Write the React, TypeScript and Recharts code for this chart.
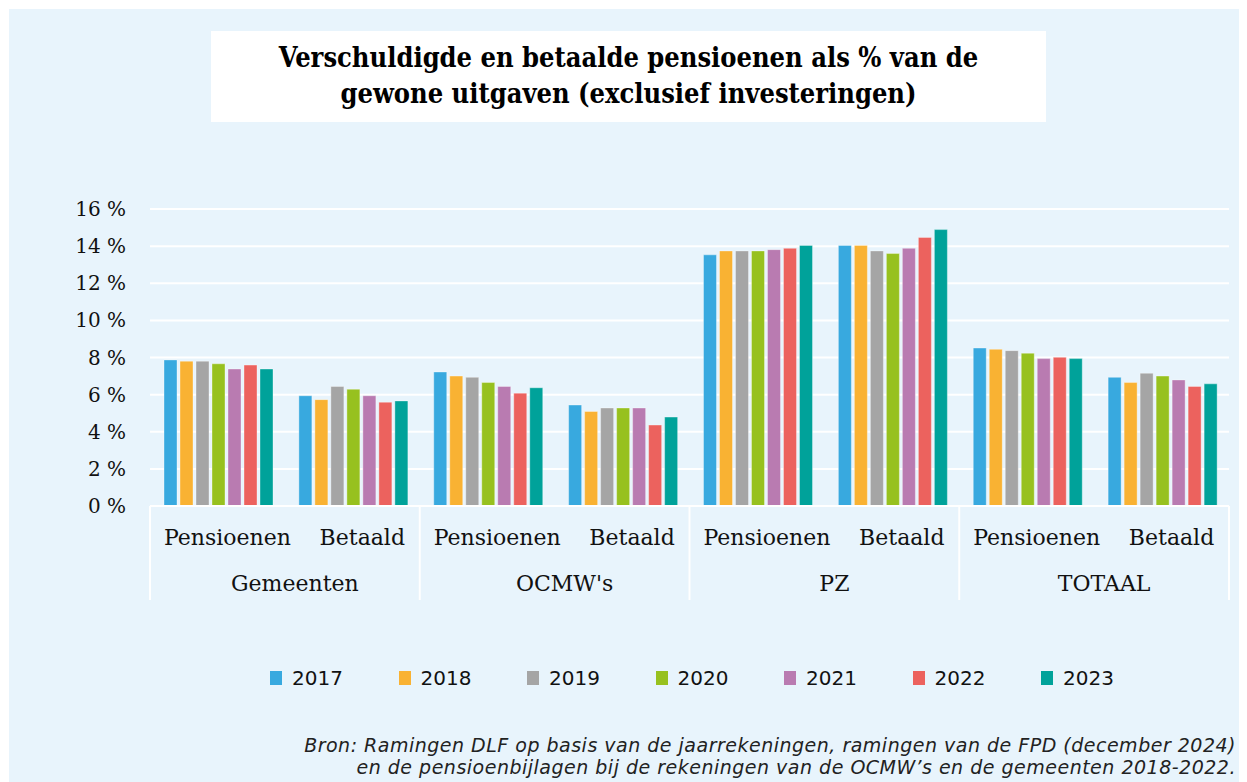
import {
  BarChart,
  Bar,
  XAxis,
  YAxis,
  CartesianGrid,
  Legend,
} from "recharts"

const groups = ["Gemeenten", "OCMW's", "PZ", "TOTAAL"]
const subLabels = ["Pensioenen", "Betaald"]
const years = ["2017", "2018", "2019", "2020", "2021", "2022", "2023"]
const colors = ["#38a9df", "#f9b233", "#a5a5a5", "#97c11f", "#b97bb1", "#ec625e", "#00a29a"]

// order: Gemeenten P/B, OCMW P/B, PZ P/B, TOTAAL P/B
const v2017 = [7.87, 5.94, 7.22, 5.44, 13.53, 14.04, 8.51, 6.93]
const v2018 = [7.8, 5.73, 7.0, 5.09, 13.74, 14.04, 8.44, 6.65]
const v2019 = [7.8, 6.44, 6.93, 5.28, 13.74, 13.74, 8.37, 7.15]
const v2020 = [7.66, 6.29, 6.65, 5.28, 13.74, 13.6, 8.23, 7.0]
const v2021 = [7.38, 5.94, 6.44, 5.28, 13.81, 13.88, 7.94, 6.79]
const v2022 = [7.59, 5.59, 6.08, 4.36, 13.88, 14.47, 8.01, 6.44]
const v2023 = [7.38, 5.66, 6.37, 4.79, 14.04, 14.89, 7.94, 6.58]
const yTicks = [0, 2, 4, 6, 8, 10, 12, 14, 16]

const series = [v2017, v2018, v2019, v2020, v2021, v2022, v2023]

const data = groups.flatMap((g, gi) =>
  subLabels.map((s, si) => {
    const row: Record<string, string | number> = { group: g, sub: s, key: g + "-" + s }
    years.forEach((y, yi) => {
      row[y] = series[yi][gi * 2 + si]
    })
    return row
  })
)

const CHART_W = 1238
const CHART_H = 700
const Y_W = 141
const M_RIGHT = 18
const BAND = (CHART_W - Y_W - M_RIGHT) / data.length
const serif = "'DejaVu Serif', serif"

function CategoryTick(props: any) {
  const { x, y, index } = props
  const row = data[index]
  if (!row) return null
  return (
    <g>
      <text x={x + 10} y={y + 39} textAnchor="middle" fontFamily={serif} fontSize={22} fill="#111">
        {row.sub}
      </text>
      {index % 2 === 0 && (
        <>
          <line x1={x - BAND / 2} x2={x - BAND / 2} y1={y} y2={y + 94} stroke="#fff" strokeWidth={2} />
          <text x={x + BAND / 2 + 10} y={y + 85} textAnchor="middle" fontFamily={serif} fontSize={22} fill="#111">
            {row.group}
          </text>
        </>
      )}
      {index === data.length - 1 && (
        <line x1={x + BAND / 2} x2={x + BAND / 2} y1={y} y2={y + 94} stroke="#fff" strokeWidth={2} />
      )}
    </g>
  )
}

function LegendContent(props: any) {
  const { payload } = props
  return (
    <div style={{ display: "flex", height: 30, alignItems: "center" }}>
      {payload.map((p: any) => (
        <div key={p.value} style={{ width: 128.5, display: "flex", alignItems: "center" }}>
          <span style={{ width: 12, height: 14, background: p.color, display: "inline-block", marginRight: 10 }} />
          <span style={{ fontFamily: "'DejaVu Sans', sans-serif", fontSize: 20, color: "#111" }}>{p.value}</span>
        </div>
      ))}
    </div>
  )
}

export default function App() {
  return (
    <div
      style={{
        position: "relative",
        marginLeft: 1,
        marginTop: 1,
        width: CHART_W,
        height: 773,
        background: "#e8f4fc",
        overflow: "hidden",
      }}
    >
      <div
        style={{
          position: "absolute",
          left: 202,
          top: 22,
          width: 835,
          height: 91,
          background: "#fff",
          textAlign: "center",
          fontFamily: serif,
          fontWeight: 700,
          fontStretch: "condensed",
          fontSize: 27,
          lineHeight: "36px",
          paddingTop: 9,
          boxSizing: "border-box",
          color: "#000",
        }}
      >
        Verschuldigde en betaalde pensioenen als % van de
        <br />
        gewone uitgaven (exclusief investeringen)
      </div>
      <BarChart
        width={CHART_W}
        height={CHART_H}
        data={data}
        margin={{ top: 200, right: M_RIGHT, left: 0, bottom: 16 }}
        barCategoryGap={14}
        barGap={3}
      >
        <CartesianGrid vertical={false} stroke="#ffffff" strokeWidth={2} />
        <XAxis
          dataKey="key"
          tick={<CategoryTick />}
          tickLine={false}
          tickSize={0}
          tickMargin={0}
          interval={0}
          height={157}
          axisLine={{ stroke: "#ffffff", strokeWidth: 2 }}
        />
        <YAxis
          width={Y_W}
          domain={[0, 16]}
          ticks={yTicks}
          interval={0}
          tickFormatter={(v: number) => `${v} %`}
          tick={{ fontFamily: serif, fontSize: 20, fill: "#111" }}
          tickLine={false}
          tickMargin={18}
          axisLine={false}
        />
        <Legend
          verticalAlign="bottom"
          content={<LegendContent />}
          wrapperStyle={{ left: 261, width: 900, height: 30 }}
        />
        {years.map((y, i) => (
          <Bar
            key={y}
            dataKey={y}
            name={y}
            fill={colors[i]}
            stroke="#ffffff"
            strokeOpacity={0.35}
            strokeWidth={1}
            isAnimationActive={false}
          />
        ))}
      </BarChart>
      <div
        style={{
          position: "absolute",
          right: 11,
          top: 725,
          textAlign: "right",
          fontFamily: "'DejaVu Sans', sans-serif",
          fontStyle: "italic",
          fontSize: 19,
          letterSpacing: 0.5,
          lineHeight: "22px",
          color: "#222",
        }}
      >
        Bron: Ramingen DLF op basis van de jaarrekeningen, ramingen van de FPD (december 2024)
        <br />
        en de pensioenbijlagen bij de rekeningen van de OCMW’s en de gemeenten 2018-2022.
      </div>
    </div>
  )
}
